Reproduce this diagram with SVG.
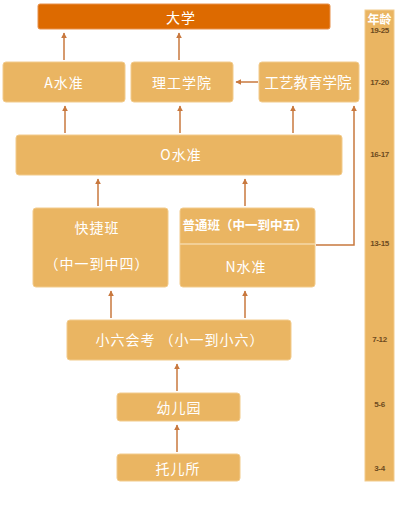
<svg xmlns="http://www.w3.org/2000/svg" width="410" height="510" viewBox="0 0 410 510">
<style>
.box{fill:#EAB562;stroke:#F2CB8C;stroke-width:1}
.t{font-family:"Noto Sans CJK SC","Liberation Sans",sans-serif;fill:#FFFFFF;text-anchor:middle;dominant-baseline:central;font-size:14px;letter-spacing:1px}
.age{font-family:"Liberation Sans","Noto Sans CJK SC",sans-serif;fill:#6E4B1F;font-size:8px;font-weight:bold;text-anchor:middle;dominant-baseline:central;letter-spacing:-0.4px}
.c{stroke:#C8783E;stroke-width:1.5;fill:none}
</style>
<defs>
<marker id="ah" viewBox="0 0 10 10" refX="9" refY="5" markerWidth="4" markerHeight="4" orient="auto">
<path d="M0,0 L10,5 L0,10 z" fill="#C8783E"/>
</marker>
</defs>
<rect width="410" height="510" fill="#FFFFFF"/>
<g id="ages">
<rect x="365" y="10" width="29" height="471" fill="#EAB562" stroke="#F2CB8C"/>
<text x="379.5" y="18" class="t" style="font-size:12px;letter-spacing:0" font-weight="bold">年龄</text>
<text x="379.5" y="30" class="age">19-25</text>
<text x="379.5" y="82" class="age">17-20</text>
<text x="379.5" y="154" class="age">16-17</text>
<text x="379.5" y="243" class="age">13-15</text>
<text x="379.5" y="339" class="age">7-12</text>
<text x="379.5" y="404" class="age">5-6</text>
<text x="379.5" y="468" class="age">3-4</text>
</g>
<g id="daxue">
<rect x="38" y="4" width="292" height="25" rx="2" fill="#DD6A00" stroke="#E8904A"/>
<text x="181" y="17" class="t">大学</text>
</g>
<g id="a-level">
<rect x="3" y="62" width="122" height="40" rx="3" class="box"/>
<text x="64" y="82" class="t">A水准</text>
</g>
<g id="poly">
<rect x="131" y="62" width="102" height="40" rx="3" class="box"/>
<text x="182" y="82" class="t">理工学院</text>
</g>
<g id="ite">
<rect x="259" y="62" width="100" height="40" rx="3" class="box"/>
<text x="308" y="81" class="t" style="letter-spacing:0;font-size:14.5px">工艺教育学院</text>
</g>
<g id="o-level">
<rect x="16" y="135" width="326" height="40" rx="3" class="box"/>
<text x="181" y="154" class="t">O水准</text>
</g>
<g id="express">
<rect x="33" y="208" width="135" height="79" rx="3" class="box"/>
<text x="97" y="227" class="t">快捷班</text>
<text x="97" y="263" class="t">（中一到中四）</text>
</g>
<g id="normal">
<rect x="180" y="208" width="135" height="79" rx="3" class="box"/>
<line x1="180" y1="244" x2="315" y2="244" stroke="#F5D9A8" stroke-width="1.5"/>
<text x="245" y="224" class="t" style="font-size:12.5px;letter-spacing:0" font-weight="bold">普通班（中一到中五）</text>
<text x="246" y="266" class="t">N水准</text>
</g>
<g id="psle">
<rect x="67" y="320" width="224" height="40" rx="3" class="box"/>
<text x="180" y="339" class="t">小六会考 （小一到小六）</text>
</g>
<g id="kindergarten">
<rect x="117" y="393" width="123" height="28" rx="3" class="box"/>
<text x="179" y="407" class="t">幼儿园</text>
</g>
<g id="nursery">
<rect x="117" y="454" width="123" height="27" rx="3" class="box"/>
<text x="178" y="468" class="t">托儿所</text>
</g>
<g id="connectors">
<line x1="64" y1="60" x2="64" y2="33" class="c" marker-end="url(#ah)"/>
<line x1="179" y1="60" x2="179" y2="33" class="c" marker-end="url(#ah)"/>
<line x1="258" y1="82" x2="236" y2="82" class="c" marker-end="url(#ah)"/>
<line x1="65" y1="133" x2="65" y2="106" class="c" marker-end="url(#ah)"/>
<line x1="180" y1="133" x2="180" y2="106" class="c" marker-end="url(#ah)"/>
<line x1="293" y1="133" x2="293" y2="106" class="c" marker-end="url(#ah)"/>
<polyline points="316,245 354,245 354,106" class="c" marker-end="url(#ah)"/>
<line x1="98" y1="206" x2="98" y2="179" class="c" marker-end="url(#ah)"/>
<line x1="245" y1="206" x2="245" y2="179" class="c" marker-end="url(#ah)"/>
<line x1="111" y1="318" x2="111" y2="291" class="c" marker-end="url(#ah)"/>
<line x1="245" y1="318" x2="245" y2="291" class="c" marker-end="url(#ah)"/>
<line x1="177" y1="391" x2="177" y2="364" class="c" marker-end="url(#ah)"/>
<line x1="177" y1="452" x2="177" y2="425" class="c" marker-end="url(#ah)"/>
</g>
</svg>
